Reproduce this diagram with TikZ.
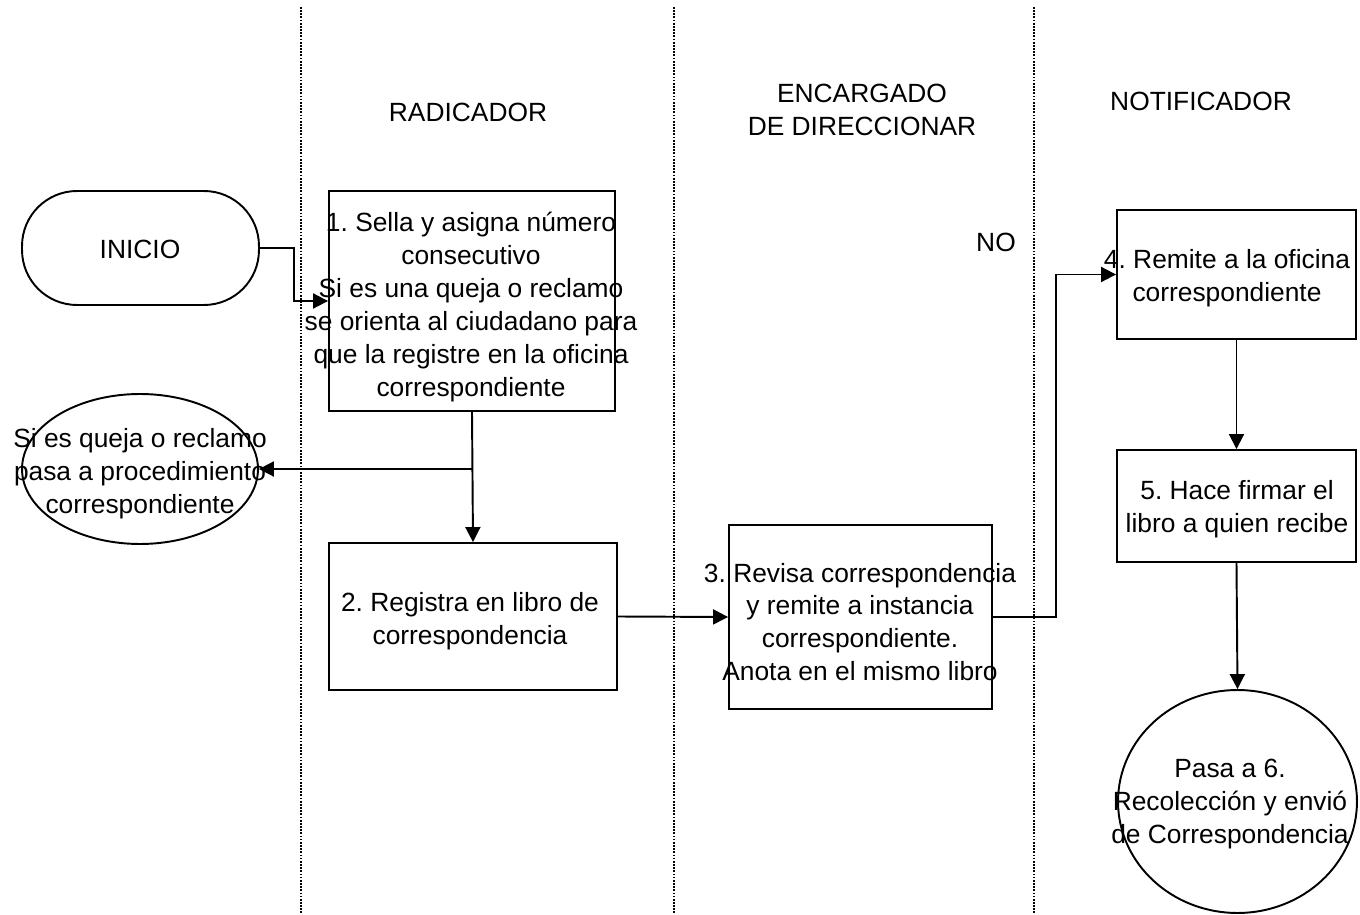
\documentclass[tikz,border=0pt]{standalone}
\usepackage{fontspec}
\setmainfont{Liberation Sans}
\usetikzlibrary{shapes.geometric,arrows.meta}
\frenchspacing

\begin{document}
\begin{tikzpicture}[x=0.02cm,y=-0.02cm,
  font=\fontsize{15}{18.7}\selectfont,
  lane/.style={line width=0.6pt,dash pattern=on 1pt off 0.8pt},
  caja/.style={draw,line width=1.1pt,rectangle,inner sep=0pt},
  elipse/.style={draw,line width=1.1pt,ellipse,inner sep=0pt},
  txt/.style={align=center,inner sep=0pt},
  flecha/.style={line width=1.1pt,-{Triangle[length=3mm,width=3mm]}}]
\useasboundingbox (0,0) rectangle (1360,915);

% carriles
\foreach \x in {301,674,1034}
  \draw[lane] (\x,7) -- (\x,915);

\node[txt] (hrad) at (468,112) {RADICADOR};
\node[txt] (henc) at (862,110) {ENCARGADO\\DE DIRECCIONAR};
\node[txt] (hnot) at (1201,101) {NOTIFICADOR};

% formas
\node[caja,rounded corners=1.1cm,minimum width=4.74cm,minimum height=2.28cm] (inicio) at (140.5,248) {};
\node[txt] (inicioT) at (140,249) {INICIO};

\node[caja,minimum width=5.72cm,minimum height=4.4cm] (b1) at (472,301) {};
\node[txt] (b1T) at (471,307) {1. Sella y asigna número\\consecutivo\\Si es una queja o reclamo\\se orienta al ciudadano para\\que la registre en la oficina\\correspondiente};

\node[elipse,minimum width=4.72cm,minimum height=3.0cm] (elip) at (140,469) {};
\node[txt] (elipT) at (140,474) {Si es queja o reclamo\\pasa a procedimiento\\correspondiente};

\node[caja,minimum width=5.76cm,minimum height=2.94cm] (b2) at (473,616.5) {};
\node[txt] (b2T) at (470,621) {2. Registra en libro de\\correspondencia};

\node[caja,minimum width=5.26cm,minimum height=3.68cm] (b3) at (860.5,617) {};
\node[txt] (b3T) at (860,622) {3. Revisa correspondencia\\y remite a instancia\\correspondiente.\\Anota en el mismo libro};

\node[txt] (no) at (996,242) {NO};

\node[caja,minimum width=4.78cm,minimum height=2.58cm] (b4) at (1236.5,274.5) {};
\node[txt] (b4T) at (1227,278) {4. Remite a la oficina\\correspondiente};

\node[caja,minimum width=4.78cm,minimum height=2.24cm] (b5) at (1236.5,506) {};
\node[txt] (b5T) at (1237,509) {5. Hace firmar el\\libro a quien recibe};

\node[elipse,minimum width=4.78cm,minimum height=4.46cm] (fin) at (1237.5,801.5) {};
\node[txt] (finT) at (1230,804) {Pasa a 6.\\Recolección y envió\\de Correspondencia};

% conectores
\draw[flecha] (inicio.east) -- ++(34,0) |- (b1.west);
\draw[flecha] (b1.south) -- (b2.north);
\draw[flecha] (b1.south |- elip.east) -- (elip.east);
\draw[flecha] (b2.east) -- (b3.west);
\draw[flecha] (b3.east) -- ++(63,0) |- (b4.west);
\draw[flecha] (b4.south) -- (b5.north);
\draw[flecha] (b5.south) -- (fin.north);
\end{tikzpicture}
\end{document}
